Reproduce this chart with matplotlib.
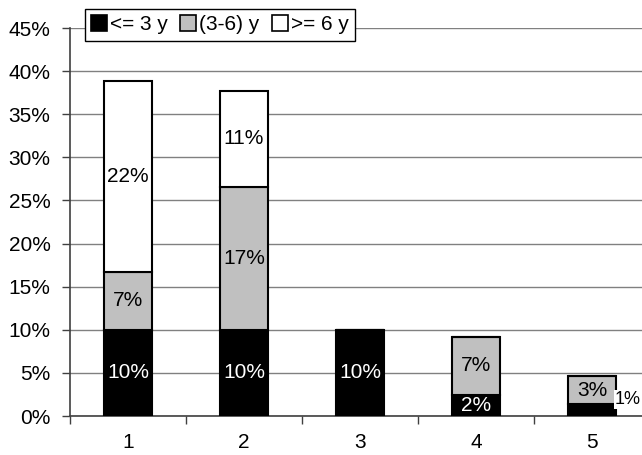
import matplotlib
matplotlib.use("Agg")
import matplotlib.pyplot as plt
from matplotlib.patches import Patch
from matplotlib.ticker import FixedLocator, FuncFormatter

plt.rcParams['font.family'] = ['Liberation Sans', 'DejaVu Sans']

categories = ["1", "2", "3", "4", "5"]
series_names = ["<= 3 y", "(3-6) y", ">= 6 y"]
# shares in percent per group
le3 = [10.0, 10.0, 10.0, 2.4, 1.4]
mid = [6.7, 16.6, 0.0, 6.8, 3.2]
ge6 = [22.2, 11.1, 0.0, 0.0, 0.0]
y_ticks = [0, 5, 10, 15, 20, 25, 30, 35, 40, 45]

fills = ["#000000", "#C0C0C0", "#FFFFFF"]
text_colors = ["white", "black", "black"]
FS = 15

fig = plt.figure(figsize=(6.42, 4.55), dpi=100)
ax = fig.add_axes([70 / 642, 39 / 455, 580 / 642, 388 / 455])

x = list(range(1, len(categories) + 1))
width = 0.41
bottom = [0.0] * len(x)
for vals, fc, tc in zip([le3, mid, ge6], fills, text_colors):
    ax.bar(x, vals, width, bottom=bottom, color=fc, edgecolor="black",
           linewidth=1.5, zorder=3)
    for xi, v, b in zip(x, vals, bottom):
        if v <= 0:
            continue
        label = f"{v:.0f}%"
        if v < 2:
            # small segment: label sits just right of the bar
            ax.text(xi + width / 2 - 0.01, b + v + 0.5, label, ha="left",
                    va="center", fontsize=FS - 2, color="black", zorder=5,
                    bbox=dict(facecolor="white", edgecolor="none", pad=0.5))
        else:
            ax.text(xi, b + v / 2, label, ha="center", va="center",
                    fontsize=FS, color=tc, zorder=5)
    bottom = [b + v for b, v in zip(bottom, vals)]

ax.set_xlim(0.5, len(x) + 0.5)
ax.set_ylim(0, 45)

# category boundaries carry the tick marks, centres carry the labels
ax.xaxis.set_major_locator(FixedLocator([i + 0.5 for i in range(len(x) + 1)]))
ax.set_xticklabels([])
ax.set_xticks(x, minor=True)
ax.set_xticklabels(categories, minor=True, fontsize=FS)
ax.tick_params(axis="x", which="major", length=6, width=1, color="#404040",
               direction="out")
ax.tick_params(axis="x", which="minor", length=0, pad=12)

ax.set_yticks(y_ticks)
ax.yaxis.set_major_formatter(FuncFormatter(lambda v, p: f"{v:.0f}%"))
ax.tick_params(axis="y", length=6, width=1, color="#404040", pad=8,
               labelsize=FS)

ax.grid(axis="y", color="#808080", linewidth=1, zorder=0)
ax.set_axisbelow(True)
for side in ["top", "right"]:
    ax.spines[side].set_visible(False)
for side in ["left", "bottom"]:
    ax.spines[side].set_color("#404040")
    ax.spines[side].set_linewidth(1.2)

handles = [Patch(facecolor=fc, edgecolor="black", linewidth=1.2) for fc in fills]
leg = fig.legend(handles, series_names, loc="upper left",
                 bbox_to_anchor=(85 / 642, 1 - 9 / 455), ncol=3,
                 fontsize=FS, frameon=True, fancybox=False, framealpha=1,
                 edgecolor="black", handlelength=0.75, handleheight=0.75,
                 handletextpad=0.15, columnspacing=0.6, borderpad=0.3,
                 borderaxespad=0)
leg.get_frame().set_linewidth(1)

fig.savefig("out.png", dpi=100)
